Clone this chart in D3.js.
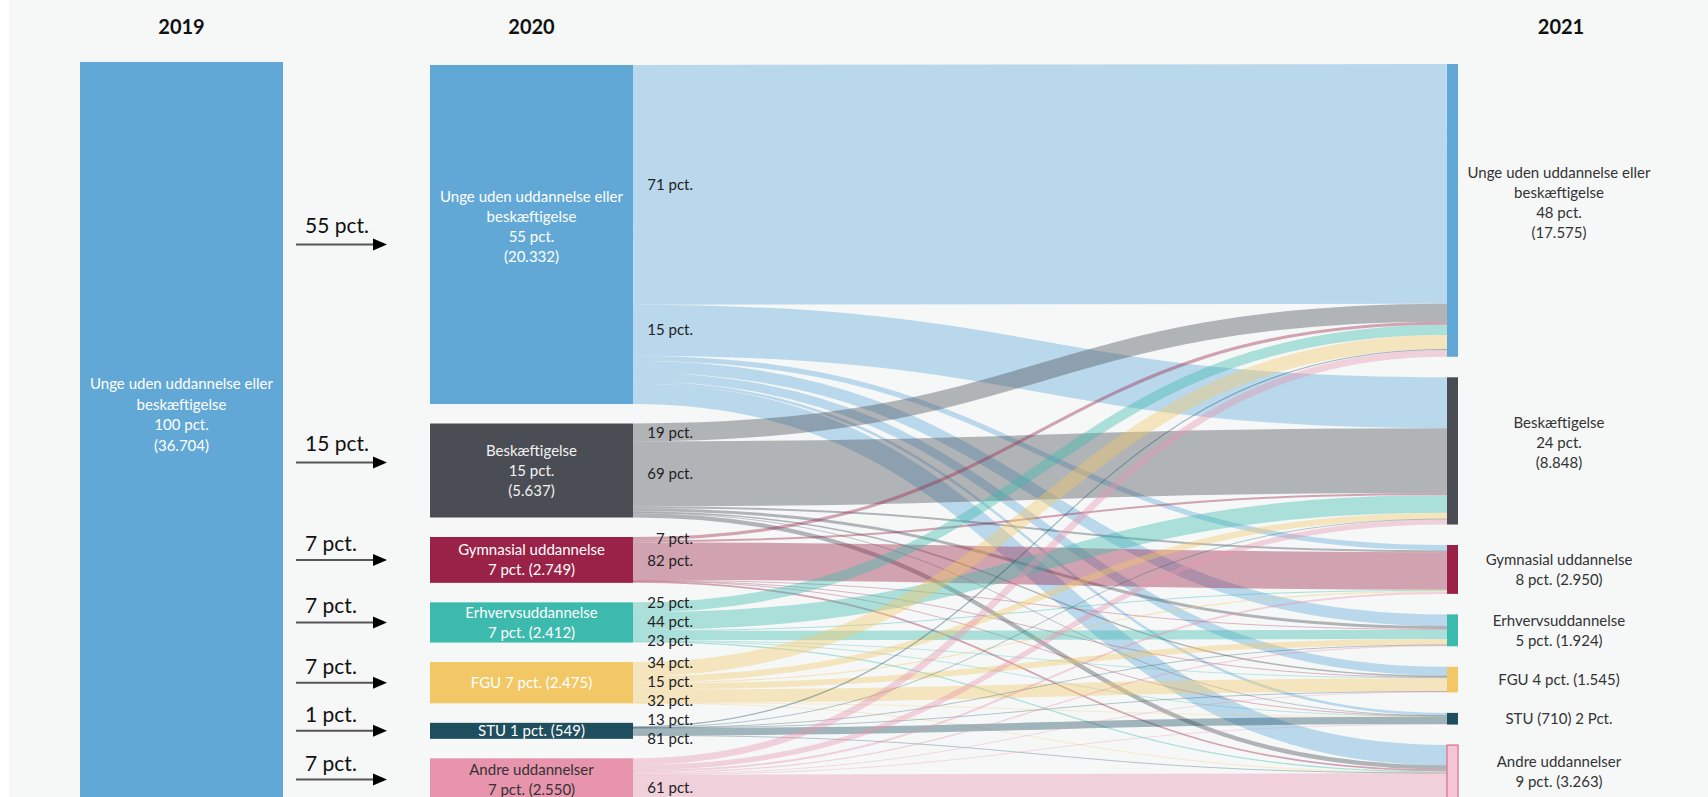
<!DOCTYPE html>
<html>
<head>
<meta charset="utf-8">
<script src="https://cdn.jsdelivr.net/npm/d3@7"></script>
<style>
  body { margin: 0; background: #f6f8f8; }
  svg { display: block; font-family: Lato, "Open Sans", sans-serif; }
</style>
</head>
<body>
<svg></svg>
<script>
var width = 1708;
var height = 797;

// column headers
var years = ['2019', '2020', '2021'];

// groups, same order in 2020 and 2021
var groups = ['Unge uden uddannelse eller beskæftigelse', 'Beskæftigelse', 'Gymnasial uddannelse',
              'Erhvervsuddannelse', 'FGU', 'STU', 'Andre uddannelser'];

var total2019 = 36704;
var labels2019 = ['Unge uden uddannelse eller', 'beskæftigelse', '100 pct.', '(36.704)'];

var labels2020 = [
    ['Unge uden uddannelse eller', 'beskæftigelse', '55 pct.', '(20.332)'],
    ['Beskæftigelse', '15 pct.', '(5.637)'],
    ['Gymnasial uddannelse', '7 pct. (2.749)'],
    ['Erhvervsuddannelse', '7 pct. (2.412)'],
    ['FGU 7 pct. (2.475)'],
    ['STU 1 pct. (549)'],
    ['Andre uddannelser', '7 pct. (2.550)']
];

var labels2021 = [
    ['Unge uden uddannelse eller', 'beskæftigelse', '48 pct.', '(17.575)'],
    ['Beskæftigelse', '24 pct.', '(8.848)'],
    ['Gymnasial uddannelse', '8 pct. (2.950)'],
    ['Erhvervsuddannelse', '5 pct. (1.924)'],
    ['FGU 4 pct. (1.545)'],
    ['STU (710) 2 Pct.'],
    ['Andre uddannelser', '9 pct. (3.263)']
];

// share of 2019 group that ends in each 2020 group
var arrowLabels = ['55 pct.', '15 pct.', '7 pct.', '7 pct.', '7 pct.', '1 pct.', '7 pct.'];

// flows: rows = group in 2020, columns = group in 2021 (persons)
var flows = [
    [14380, 3050,  306, 700, 528, 155, 1213],
    [ 1071, 3890,  120, 180,  90,  30,  256],
    [  192,  120, 2254,  40,  30,  10,  103],
    [  603, 1061,   60, 555,  40,  15,   78],
    [  842,  371,   70, 360, 792,  15,   25],
    [   71,   20,    0,   5,   5, 445,    3],
    [  401,  318,  120,  75,  50,  30, 1556]
];

// flows that get a "pct." label [from 2020, to 2021]
var pctFlows = [[0,0],[0,1],[1,0],[1,1],[2,0],[2,2],[3,0],[3,1],[3,3],
                [4,0],[4,1],[4,4],[5,0],[5,5],[6,6]];

// styles
var nodeColors = ['#62a8d6', '#4a4d54', '#9b2247', '#3cbaad', '#f2c866', '#1f4e5f', '#e894ad'];
var textColors2020 = ['#fff', '#f2f2f2', '#fff', '#fff', '#fff', '#fff', '#333'];

var svg = d3.select('svg')
    .attr('width', width)
    .attr('height', height);

svg.append('rect')
    .attr('x', 0).attr('y', 0)
    .attr('width', 9).attr('height', height)
    .attr('fill', '#ffffff');

var scaleH = d3.scaleLinear().domain([0, total2019]).range([0, 612]);

var x2019 = [80, 283];
var x2020 = [430, 633];
var x2021 = [1447, 1458];
var labelX2021 = 1559;

var rowSums = flows.map(function(r) { return d3.sum(r); });
var colSums = groups.map(function(g, j) { return d3.sum(flows, function(r) { return r[j]; }); });

function layoutColumn(values, top, pad, minH) {
    var y = top;
    return values.map(function(v, i) {
        var h = Math.max(scaleH(v), minH);
        var n = {index: i, value: v, y0: y, y1: y + h, h: h, off: (h - scaleH(v)) / 2};
        y += h + pad;
        return n;
    });
}

var left = layoutColumn(rowSums, 65, 19.5, 16);
var right = layoutColumn(colSums, 64, 20.5, 0);

// links
var links = [];
left.forEach(function(n, i) {
    var y = n.y0 + n.off;
    flows[i].forEach(function(v, j) {
        var w = scaleH(v);
        links.push({i: i, j: j, value: v, w: w, sy: y + w / 2});
        y += w;
    });
});
right.forEach(function(n, j) {
    var y = n.y0 + n.off;
    links.filter(function(l) { return l.j === j; })
        .sort(function(a, b) { return a.i - b.i; })
        .forEach(function(l) {
            l.ty = y + l.w / 2;
            y += l.w;
        });
});

var linkGen = d3.linkHorizontal()
    .source(function(d) { return [x2020[1], d.sy]; })
    .target(function(d) { return [x2021[0], d.ty]; });

svg.append('g')
    .selectAll('path')
    .data(links.filter(function(l) { return l.value > 0; }))
    .enter()
    .append('path')
    .attr('d', linkGen)
    .attr('fill', 'none')
    .attr('stroke', function(d) { return nodeColors[d.i]; })
    .attr('stroke-opacity', 0.4)
    .attr('stroke-width', function(d) { return Math.max(0.8, d.w); });

function drawLines(g, lines, x, cy, lineH, color, size) {
    var t = g.append('text')
        .attr('text-anchor', 'middle')
        .attr('fill', color)
        .attr('font-size', size);
    lines.forEach(function(s, i) {
        t.append('tspan')
            .attr('x', x)
            .attr('y', cy + (i - (lines.length - 1) / 2) * lineH)
            .attr('dy', '0.35em')
            .text(s);
    });
}

// headers
var headerX = [(x2019[0] + x2019[1]) / 2, (x2020[0] + x2020[1]) / 2, labelX2021 + 2];
svg.append('g')
    .selectAll('text')
    .data(years)
    .enter()
    .append('text')
    .attr('x', function(d, i) { return headerX[i]; })
    .attr('y', 34)
    .attr('text-anchor', 'middle')
    .attr('font-size', 20)
    .attr('font-weight', 'bold')
    .attr('fill', '#111')
    .text(function(d) { return d; });

// 2019 node
var g19 = svg.append('g');
g19.append('rect')
    .attr('x', x2019[0])
    .attr('y', 62)
    .attr('width', x2019[1] - x2019[0])
    .attr('height', height - 62)
    .attr('fill', nodeColors[0]);
drawLines(g19, labels2019, (x2019[0] + x2019[1]) / 2, (62 + height) / 2 - 15, 20.5, '#fff', 15);

// arrows 2019 -> 2020
var ga = svg.append('g');
left.forEach(function(n, i) {
    var cy = (n.y0 + n.y1) / 2 + (i === 0 ? 10 : 0) - (i === 1 ? 8 : 0);
    ga.append('line')
        .attr('x1', 296).attr('x2', 376)
        .attr('y1', cy).attr('y2', cy)
        .attr('stroke', '#555')
        .attr('stroke-width', 2);
    ga.append('path')
        .attr('d', 'M373,' + (cy - 6) + 'L387,' + cy + 'L373,' + (cy + 6) + 'Z')
        .attr('fill', '#000');
    ga.append('text')
        .attr('x', 305)
        .attr('y', cy - (i < 2 ? 12 : 9))
        .attr('font-size', 21)
        .attr('fill', '#111')
        .text(arrowLabels[i]);
});

// 2020 nodes
var g20 = svg.append('g');
left.forEach(function(n, i) {
    g20.append('rect')
        .attr('x', x2020[0])
        .attr('y', n.y0)
        .attr('width', x2020[1] - x2020[0])
        .attr('height', n.h)
        .attr('fill', nodeColors[i]);
    var lift = labels2020[i].length > 3 ? 8 : 0;
    drawLines(g20, labels2020[i], (x2020[0] + x2020[1]) / 2, (n.y0 + n.y1) / 2 - lift, 20, textColors2020[i], 15);
});

// 2021 nodes
var g21 = svg.append('g');
right.forEach(function(n, j) {
    var isAndre = j === 6;
    g21.append('rect')
        .attr('x', x2021[0])
        .attr('y', n.y0)
        .attr('width', x2021[1] - x2021[0])
        .attr('height', n.h)
        .attr('fill', isAndre ? '#f4c6d5' : nodeColors[j])
        .attr('stroke', isAndre ? '#e27fa0' : 'none')
        .attr('stroke-width', 1.5);
    var lift = labels2021[j].length > 2 ? 8 : 0;
    drawLines(g21, labels2021[j], labelX2021, (n.y0 + n.y1) / 2 - lift, 20, '#333', 15);
});

// pct labels on flows, spread so they don't overlap
var pl = pctFlows.map(function(p) {
    var l = links.filter(function(d) { return d.i === p[0] && d.j === p[1]; })[0];
    return {i: p[0], y: l.sy, text: Math.round(100 * l.value / rowSums[p[0]]) + ' pct.'};
});
d3.groups(pl, function(d) { return d.i; }).forEach(function(grp) {
    var items = grp[1].sort(function(a, b) { return a.y - b.y; });
    var mean0 = d3.mean(items, function(d) { return d.y; });
    for (var m = 1; m < items.length; m++) {
        if (items[m].y < items[m - 1].y + 19) items[m].y = items[m - 1].y + 19;
    }
    var shift = mean0 - d3.mean(items, function(d) { return d.y; });
    items.forEach(function(d) { d.y += shift; });
});

svg.append('g')
    .selectAll('text')
    .data(pl)
    .enter()
    .append('text')
    .attr('x', 693)
    .attr('y', function(d) { return d.y; })
    .attr('dy', '0.35em')
    .attr('text-anchor', 'end')
    .attr('font-size', 15)
    .attr('fill', '#222')
    .text(function(d) { return d.text; });
</script>
</body>
</html>
